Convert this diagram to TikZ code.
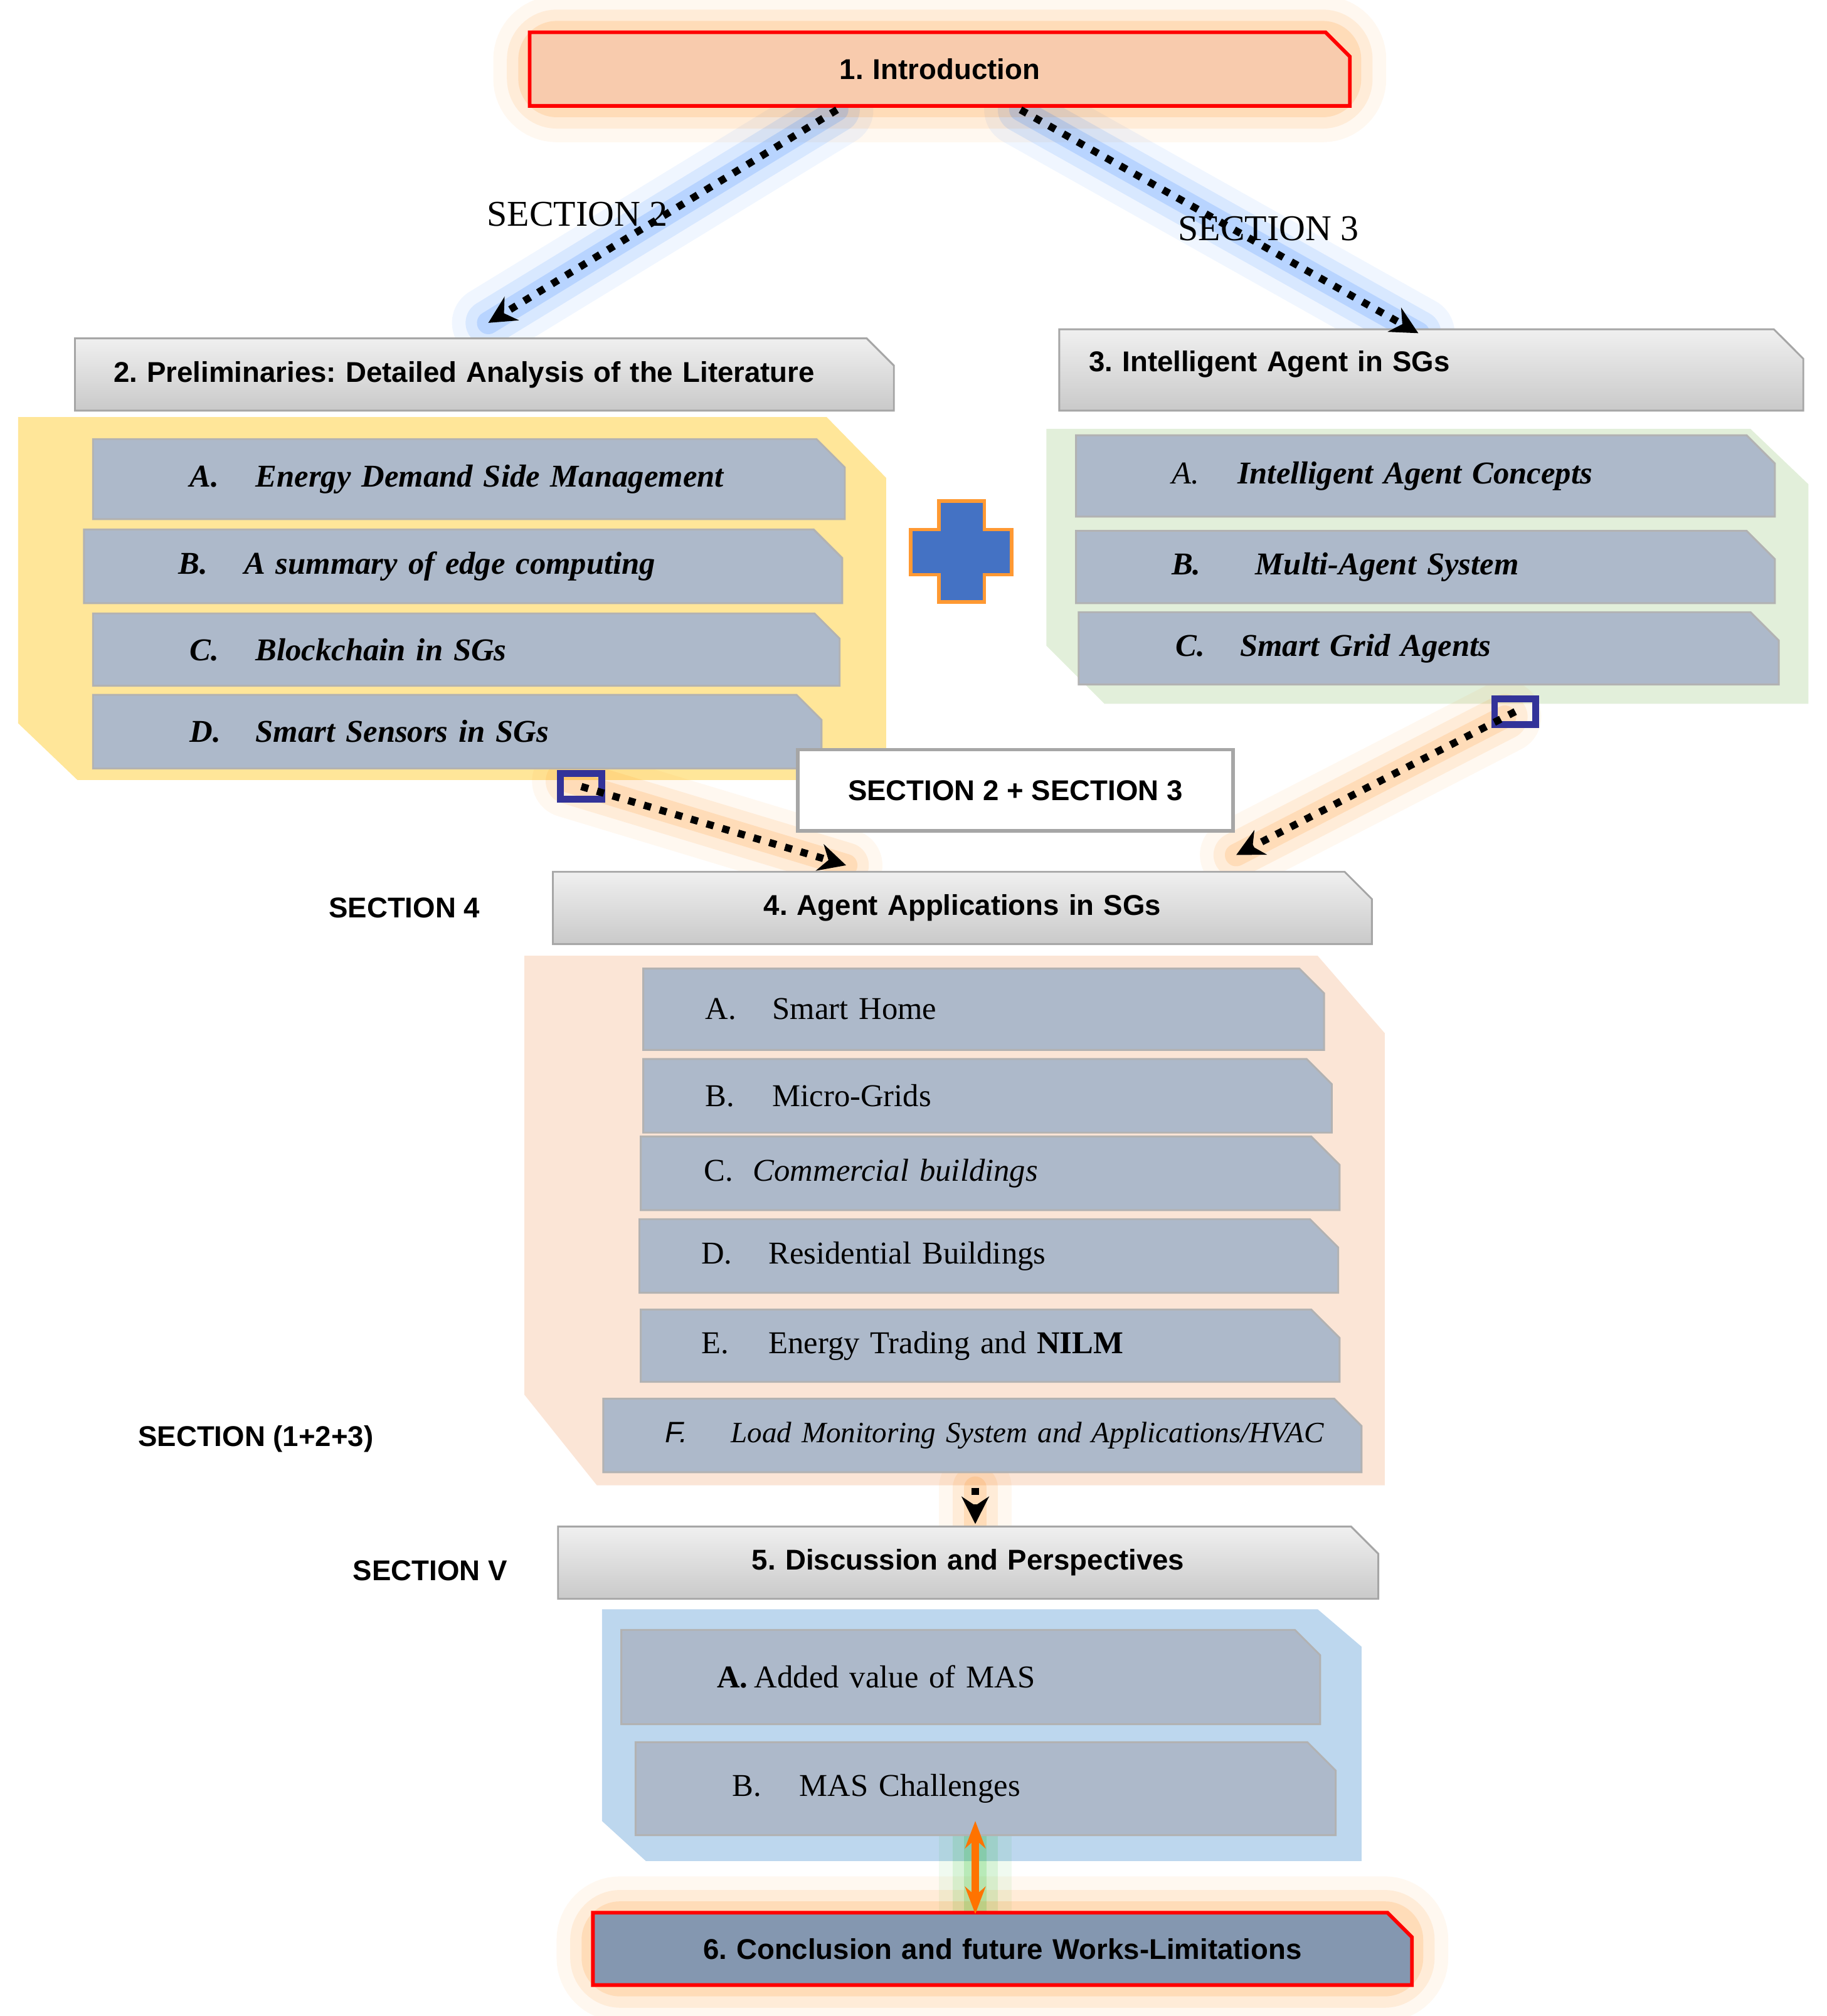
\documentclass[tikz,border=0pt]{standalone}
\usepackage{fontspec}
\setmainfont{Liberation Serif}
\setsansfont{Liberation Sans}
\usetikzlibrary{shapes.misc,arrows.meta}
\frenchspacing

\definecolor{introfill}{HTML}{F8CBAD}
\definecolor{itemfill}{HTML}{ADB9CA}
\definecolor{yellowbg}{HTML}{FFE699}
\definecolor{greenbg}{HTML}{E2EFDA}
\definecolor{peachbg}{HTML}{FBE5D6}
\definecolor{bluebg}{HTML}{BDD7EE}
\definecolor{crossblue}{HTML}{4472C4}
\definecolor{endfill}{HTML}{8497B0}

% box from corner (x1,y1) to (x2,y2)
\newcommand{\snipbox}[7]{%
  \node[#2, minimum width={(#5-#3)*0.1mm}, minimum height={(#6-#4)*0.1mm},
        text width={(#5-#3)*0.1mm-4.4mm}] (#1) at ({(#3+#5)/2},{(#4+#6)/2}) {#7};}
% indent, letter, gap, text
\newcommand{\entry}[4]{\hspace*{#1}\makebox[#3][l]{#2}#4}

\begin{document}
\begin{tikzpicture}[x=0.1mm,y=-0.1mm,
  snip/.style={chamfered rectangle, chamfered rectangle corners=north east,
    chamfered rectangle xsep=1.2mm, inner sep=0pt, inner xsep=0.8mm},
  head/.style={snip, draw=gray!70, top color=gray!12, bottom color=gray!42,
    font=\sffamily\bfseries\fontsize{6.3}{7}\selectfont},
  item/.style={snip, draw=gray!60, fill=itemfill, align=left, font=\fontsize{7}{8}\selectfont},
  conn/.style={dotted, line width=1.6pt, -{Stealth[length=6pt,width=6pt]}},
  seclab/.style={font=\sffamily\bfseries\fontsize{6.3}{7}\selectfont}]

\useasboundingbox (0,0) rectangle (1414,1561);

% backgrounds
\fill[yellowbg] (14,323) -- (640,323) -- (686,370) -- (686,604) -- (60,604) -- (14,560) -- cycle;
\fill[greenbg] (810,332) -- (1355,332) -- (1400,375) -- (1400,545) -- (855,545) -- (810,500) -- cycle;
\fill[peachbg] (406,740) -- (1020,740) -- (1072,800) -- (1072,1150) -- (462,1150) -- (406,1080) -- cycle;
\fill[bluebg] (466,1246) -- (1020,1246) -- (1054,1275) -- (1054,1441) -- (500,1441) -- (466,1410) -- cycle;

% glows
\foreach \w/\o in {16pt/0.06,10pt/0.1,5pt/0.15}{
  \draw[line width=\w, orange, opacity=\o, rounded corners=6pt] (410,25) rectangle (1045,82);
  \draw[line width=\w, orange, opacity=\o, rounded corners=6pt] (459,1481) rectangle (1093,1537);
  \draw[line width=\w, blue!60!cyan, opacity=\o, line cap=round] (648,85) -- (378,250);
  \draw[line width=\w, blue!60!cyan, opacity=\o, line cap=round] (790,85) -- (1098,258);
  \draw[line width=\w, orange, opacity=\o, line cap=round] (440,605) -- (655,670);
  \draw[line width=\w, orange, opacity=\o, line cap=round] (1165,555) -- (957,662);
  \draw[line width=\w, orange, opacity=\o, line cap=round] (755,1152) -- (755,1180);
  \draw[line width=\w, green!70!black, opacity=\o, line cap=round] (755,1412) -- (755,1480);
}

% heads
\snipbox{intro}{head, draw=red, thick, top color=introfill, bottom color=introfill, align=center}{410}{25}{1045}{82}{1. Introduction}
\snipbox{prelim}{head, align=left}{58}{262}{692}{318}{\entry{0.8mm}{}{0mm}{2. Preliminaries: Detailed Analysis of the Literature}}
\snipbox{agent}{head, align=left}{820}{255}{1396}{318}{\entry{0.1mm}{}{0mm}{\raisebox{1.2ex}{3. Intelligent Agent in SGs}}}
\snipbox{appl}{head, align=center}{428}{675}{1062}{731}{4. Agent Applications in SGs}
\snipbox{disc}{head, align=center}{432}{1182}{1067}{1238}{5. Discussion and Perspectives}
\snipbox{concl}{head, draw=red, thick, top color=endfill, bottom color=endfill, align=center}{459}{1481}{1093}{1537}{6. Conclusion and future Works-Limitations}

% section 2 items
\snipbox{pa}{item}{72}{340}{654}{402}{\bfseries\itshape\entry{5.3mm}{A.}{5.1mm}{Energy Demand Side Management}}
\snipbox{pb}{item}{65}{410}{652}{467}{\bfseries\itshape\entry{5.1mm}{B.}{5.1mm}{A summary of edge computing}}
\snipbox{pc}{item}{72}{475}{650}{531}{\bfseries\itshape\entry{5.3mm}{C.}{5.1mm}{Blockchain in SGs}}
\snipbox{pd}{item}{72}{538}{636}{595}{\bfseries\itshape\entry{5.3mm}{D.}{5.1mm}{Smart Sensors in SGs}}

% section 3 items
\snipbox{ia}{item}{833}{337}{1374}{400}{\itshape\entry{5.2mm}{A.}{5.1mm}{\bfseries Intelligent Agent Concepts}}
\snipbox{ib}{item}{833}{411}{1374}{467}{\bfseries\itshape\entry{5.2mm}{B.}{6.5mm}{Multi-Agent System}}
\snipbox{ic}{item}{835}{474}{1377}{530}{\bfseries\itshape\entry{5.3mm}{C.}{5mm}{Smart Grid Agents}}

% plus sign
\filldraw[fill=crossblue, draw=orange!80, thick] (727,388) -- (762,388) -- (762,410) -- (783,410) -- (783,445) -- (762,445) -- (762,466) -- (727,466) -- (727,445) -- (705,445) -- (705,410) -- (727,410) -- cycle;

% section 4 items
\snipbox{aa}{item}{498}{750}{1025}{813}{\entry{2.6mm}{A.}{5.2mm}{Smart Home}}
\snipbox{ab}{item}{498}{820}{1031}{877}{\entry{2.6mm}{B.}{5.2mm}{Micro-Grids}}
\snipbox{ac}{item}{496}{880}{1037}{937}{\entry{2.7mm}{C.}{3.8mm}{\itshape Commercial buildings}}
\snipbox{ad}{item}{495}{944}{1036}{1001}{\entry{2.6mm}{D.}{5.2mm}{Residential Buildings}}
\snipbox{ae}{item}{496}{1014}{1037}{1070}{\entry{2.5mm}{E.}{5.2mm}{Energy Trading and \textbf{NILM}}}
\snipbox{af}{item, font=\fontsize{6.5}{7.5}\selectfont}{467}{1083}{1054}{1140}{\itshape\entry{2.6mm}{\sffamily F.}{5.1mm}{Load Monitoring System and Applications/HVAC}}

% section 5 items
\snipbox{da}{item}{481}{1262}{1022}{1335}{\entry{5.2mm}{\bfseries A.}{2.9mm}{Added value of MAS}}
\snipbox{db}{item}{492}{1349}{1034}{1421}{\entry{5.3mm}{B.}{5.2mm}{MAS Challenges}}

% combined label and markers
\node[draw=gray!70, thick, fill=white, minimum width=33.7mm, minimum height=6.3mm, font=\sffamily\bfseries\fontsize{6.3}{7}\selectfont] (both) at (786,612) {SECTION 2 + SECTION 3};
\node[draw=blue!50!black!80, line width=1.5pt, minimum width=3.2mm, minimum height=2mm, inner sep=0pt] (mk1) at (450,609) {};
\node[draw=blue!50!black!80, line width=1.5pt, minimum width=3.2mm, minimum height=2mm, inner sep=0pt] (mk2) at (1173,551) {};
\coordinate (introl) at (648,85);
\coordinate (intror) at (790,85);
\coordinate (prelimin) at (378,250);
\coordinate (agentin) at (1098,258);
\coordinate (applin) at (655,670);
\coordinate (applinr) at (957,662);
\coordinate (applout) at (755,1152);
\coordinate (discin) at (755,1180);
\coordinate (chaltop) at (755,1410);
\coordinate (conclin) at (755,1482);

% connectors
\draw[conn] (introl) -- (prelimin);
\draw[conn] (intror) -- (agentin);
\draw[conn] (mk1.center) -- (applin);
\draw[conn] (mk2.center) -- (applinr);
\draw[conn] (applout) -- (discin);
\draw[line width=1.6pt, orange!90!red, {Stealth[length=6pt]}-{Stealth[length=6pt]}] (chaltop) -- (conclin);

% section labels
\node[font=\fontsize{8}{9}\selectfont] (lab2) at (447,166) {SECTION 2};
\node[font=\fontsize{8}{9}\selectfont] (lab3) at (982,177) {SECTION 3};
\node[seclab] (lab4) at (313,703) {SECTION 4};
\node[seclab] (lab123) at (198,1114) {SECTION (1+2+3)};
\node[seclab] (lab5) at (333,1216) {SECTION V};

\end{tikzpicture}
\end{document}
